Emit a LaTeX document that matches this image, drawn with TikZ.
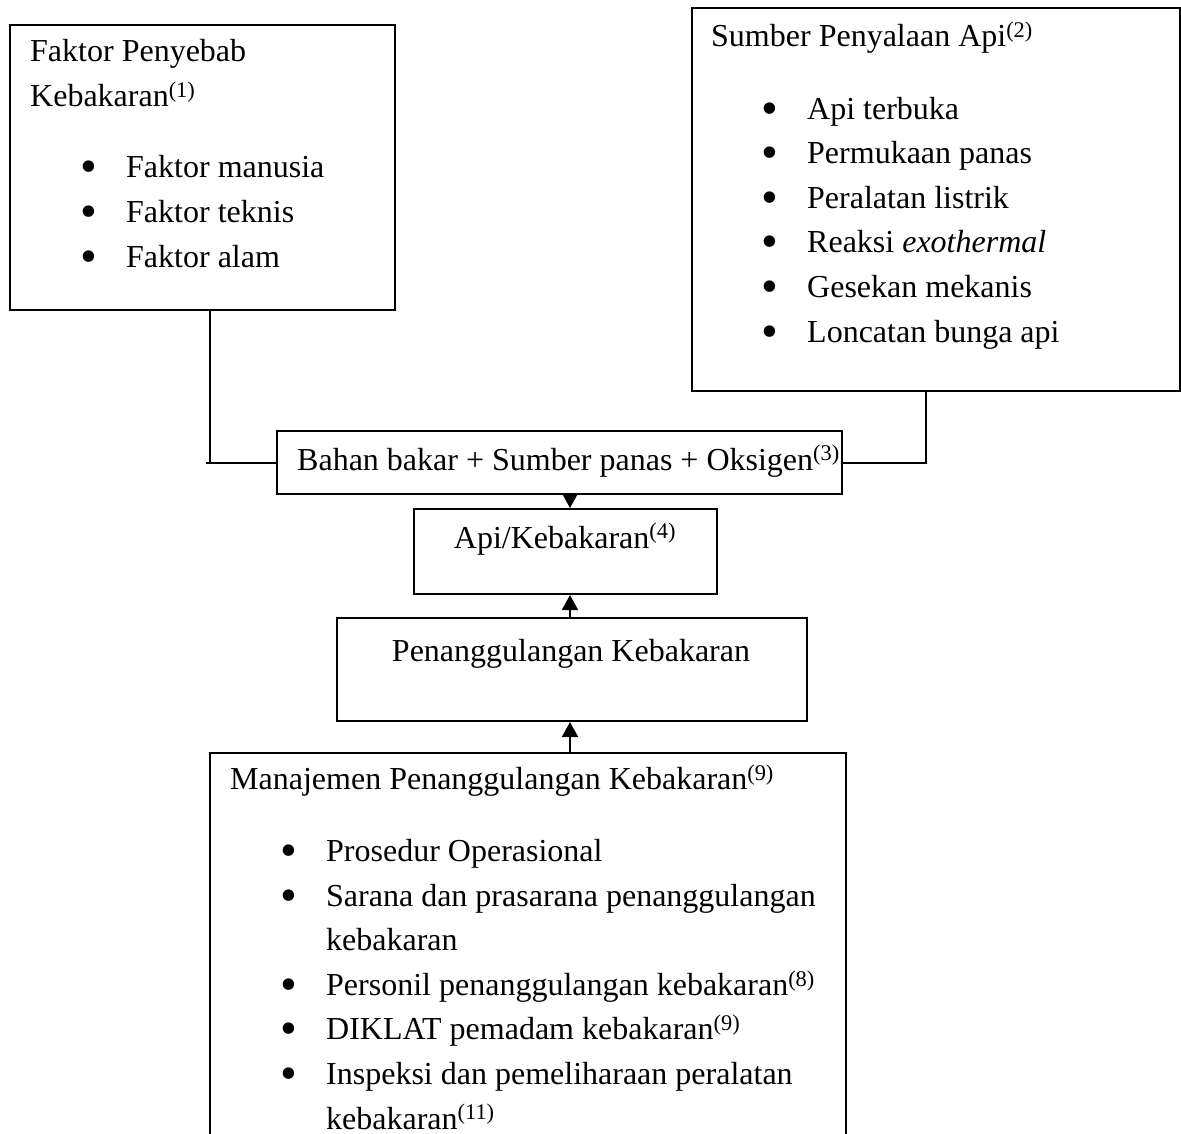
\documentclass[tikz,border=0pt]{standalone}
\usepackage{fontspec}
\setmainfont{Liberation Serif}
\usetikzlibrary{arrows.meta}

\newcommand{\itm}{\hspace*{50pt}\makebox[46pt][l]{\raisebox{-5pt}{\scalebox{1.5}{\textbullet}}}}
\newcommand{\cnt}{\hspace*{96pt}}

\begin{document}
\begin{tikzpicture}[x=1pt,y=-1pt,
  font=\fontsize{32}{44.6}\selectfont,
  box/.style={draw, line width=2pt, inner sep=0pt, anchor=north west},
  txt/.style={inner sep=0pt, anchor=base west, align=left},
  arr/.style={line width=2pt, -{Triangle[width=16pt,length=15pt]}}]

\useasboundingbox (0,0) rectangle (1181,1133);

% boxes
\node[box, minimum width=385pt, minimum height=285pt] (faktor) at (9,24) {};
\node[box, minimum width=488pt, minimum height=383pt] (sumber) at (691,7) {};
\node[box, minimum width=565pt, minimum height=63pt] (bahan) at (276,430) {};
\node[box, minimum width=303pt, minimum height=85pt] (api) at (413,508) {};
\node[box, minimum width=470pt, minimum height=103pt] (penang) at (336,617) {};
\node[box, minimum width=636pt, minimum height=420pt] (manaj) at (209,752) {};

% texts (placed at the baseline of their last line)
\node[txt] (faktortxt) at (30,267) {Faktor Penyebab\\
  Kebakaran\textsuperscript{(1)}\\[27pt]
  \itm Faktor manusia\\
  \itm Faktor teknis\\
  \itm Faktor alam};

\node[txt] (sumbertxt) at (711,342) {Sumber Penyalaan Api\textsuperscript{(2)}\\[28pt]
  \itm Api terbuka\\
  \itm Permukaan panas\\
  \itm Peralatan listrik\\
  \itm Reaksi \textit{exothermal}\\
  \itm Gesekan mekanis\\
  \itm Loncatan bunga api};

\node[txt] (bahantxt) at (297,470) {Bahan bakar + Sumber panas + Oksigen\textsuperscript{(3)}};
\node[anchor=base, inner sep=0pt] (apitxt) at (565,548) {Api/Kebakaran\textsuperscript{(4)}};
\node[anchor=base, inner sep=0pt] (penangtxt) at (571,661) {Penanggulangan Kebakaran};

\node[txt] (manajtxt) at (230,1129) {Manajemen Penanggulangan Kebakaran\textsuperscript{(9)}\\[27pt]
  \itm Prosedur Operasional\\
  \itm Sarana dan prasarana penanggulangan\\
  \cnt kebakaran\\
  \itm Personil penanggulangan kebakaran\textsuperscript{(8)}\\
  \itm DIKLAT pemadam kebakaran\textsuperscript{(9)}\\
  \itm Inspeksi dan pemeliharaan peralatan\\
  \cnt kebakaran\textsuperscript{(11)}};

% connectors
\coordinate (lj) at ([xshift=7.5pt]faktor.south |- bahan.west);
\draw[line width=2pt] ([xshift=7.5pt]faktor.south) -- (lj);
\draw[line width=2pt] ([xshift=-4pt]lj) -- (bahan.west);
\draw[line width=2pt] ([xshift=-10pt]sumber.south) |- (bahan.east);

\draw[arr] (bahan.south -| 570,0) -- (api.north -| 570,0);
\draw[arr] (penang.north -| 570,0) -- (api.south -| 570,0);
\draw[arr] (manaj.north -| 570,0) -- (penang.south -| 570,0);

\end{tikzpicture}
\end{document}
